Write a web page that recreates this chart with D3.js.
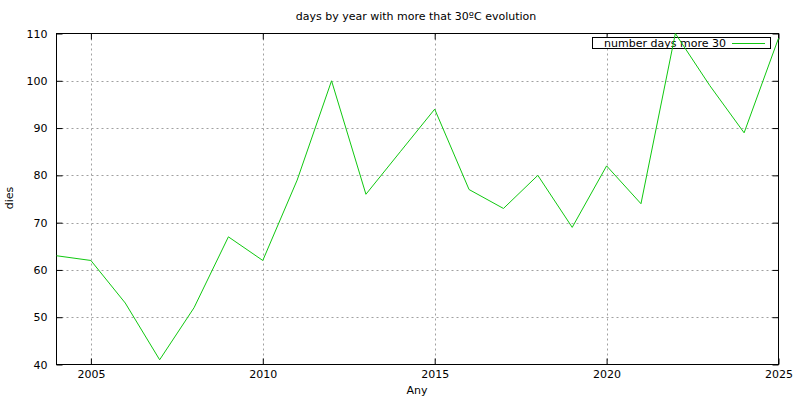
<!DOCTYPE html>
<html>
<head>
<meta charset="utf-8">
<script src="https://cdn.jsdelivr.net/npm/d3@7"></script>
<style>
  body { margin: 0; background: #fff; }
  svg { display: block; }
  text { font-family: "DejaVu Sans", Verdana, sans-serif; font-size: 11px; fill: #000; }
</style>
</head>
<body>
<svg id="chart" width="800" height="400"></svg>
<script>
const years = [2004, 2005, 2006, 2007, 2008, 2009, 2010, 2011, 2012, 2013, 2014, 2015, 2016, 2017, 2018, 2019, 2020, 2021, 2022, 2023, 2024, 2025];
const days  = [63, 62, 53, 41, 52, 67, 62, 79, 100, 76, 85, 94, 77, 73, 80, 69, 82, 74, 110, 99, 89, 109];
const xTicks = [2005, 2010, 2015, 2020, 2025];
const yTicks = [40, 50, 60, 70, 80, 90, 100, 110];
const titleText = "days by year with more that 30ºC evolution";
const xLabel = "Any";
const yLabel = "dies";
const seriesName = "number days more 30";

const svg = d3.select("#chart");
const m = { left: 56.5, right: 778.5, top: 33.5, bottom: 364.5 };
const x = d3.scaleLinear().domain([2004, 2025]).range([m.left, m.right]);
const y = d3.scaleLinear().domain([40, 110]).range([m.bottom, m.top]);
const green = "#10c810";

svg.append("rect").attr("width", 800).attr("height", 400).attr("fill", "#fff");

// grid
const grid = svg.append("g").attr("stroke", "#a0a0a0").attr("stroke-width", 1).attr("stroke-dasharray", "2,3");
xTicks.filter(t => t > 2004 && t < 2025).forEach(t => {
  grid.append("line").attr("x1", Math.round(x(t)) + 0.5).attr("x2", Math.round(x(t)) + 0.5).attr("y1", m.top).attr("y2", m.bottom);
});
yTicks.filter(t => t > 40 && t < 110).forEach(t => {
  grid.append("line").attr("x1", m.left).attr("x2", m.right).attr("y1", Math.round(y(t)) + 0.5).attr("y2", Math.round(y(t)) + 0.5);
});

// axes with inward ticks and mirror
const tl = 6;
const axB = d3.axisBottom(x).tickValues(xTicks).tickFormat(d3.format("d")).tickSizeInner(-tl).tickSizeOuter(0).tickPadding(6);
const axT = d3.axisTop(x).tickValues(xTicks).tickFormat("").tickSizeInner(-tl).tickSizeOuter(0);
const axL = d3.axisLeft(y).tickValues(yTicks).tickSizeInner(-tl).tickSizeOuter(0).tickPadding(9);
const axR = d3.axisRight(y).tickValues(yTicks).tickFormat("").tickSizeInner(-tl).tickSizeOuter(0);

function styleAxis(g) {
  g.select(".domain").remove();
  g.selectAll("line").attr("stroke", "#000");
  g.selectAll("text").attr("font-family", "DejaVu Sans, Verdana, sans-serif").attr("font-size", 11).attr("fill", "#000");
}
svg.append("g").attr("transform", `translate(0,${m.bottom})`).call(axB).call(styleAxis);
svg.append("g").attr("transform", `translate(0,${m.top})`).call(axT).call(styleAxis);
svg.append("g").attr("transform", `translate(${m.left},0)`).call(axL).call(styleAxis);
svg.append("g").attr("transform", `translate(${m.right},0)`).call(axR).call(styleAxis);

// border
svg.append("rect").attr("x", m.left).attr("y", m.top).attr("width", m.right - m.left).attr("height", m.bottom - m.top)
  .attr("fill", "none").attr("stroke", "#000").attr("stroke-width", 1);

// legend
const lg = svg.append("g");
lg.append("rect").attr("x", 592.5).attr("y", 37.5).attr("width", 178).attr("height", 11).attr("fill", "#fff").attr("stroke", "#000");
lg.append("text").attr("x", 726).attr("y", 46.5).attr("text-anchor", "end").text(seriesName);
lg.append("line").attr("x1", 732).attr("x2", 765).attr("y1", 43.5).attr("y2", 43.5).attr("stroke", green);

// line (drawn over legend, as in reference)
const line = d3.line().x((d, i) => x(years[i])).y(d => y(d));
svg.append("path").datum(days).attr("d", line).attr("fill", "none").attr("stroke", green).attr("stroke-width", 1);

// titles
svg.append("text").attr("x", 416).attr("y", 20).attr("text-anchor", "middle").text(titleText);
svg.append("text").attr("x", 417).attr("y", 394).attr("text-anchor", "middle").text(xLabel);
svg.append("text").attr("transform", "translate(13,198) rotate(-90)").attr("text-anchor", "middle").text(yLabel);
</script>
</body>
</html>
